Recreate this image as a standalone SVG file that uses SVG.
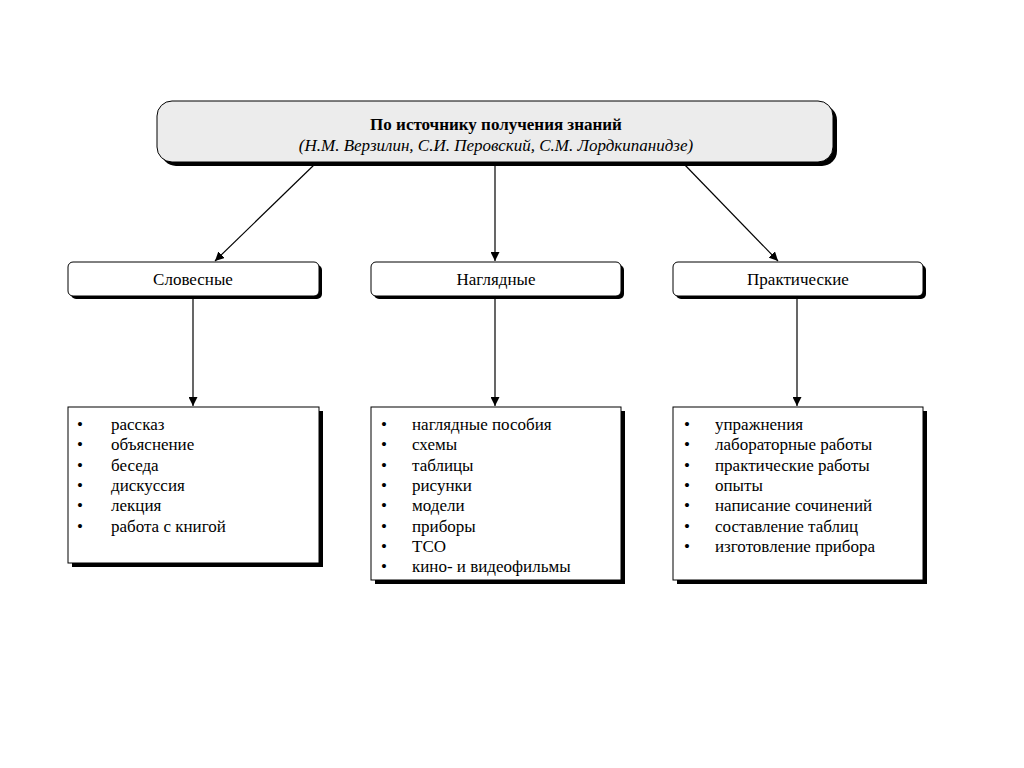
<svg xmlns="http://www.w3.org/2000/svg" width="1024" height="768" viewBox="0 0 1024 768">
<defs>
<style>
.t{font-family:"Liberation Serif","Times New Roman",serif;fill:#000}
.c{font-size:17px;text-anchor:middle}
.li{font-size:17px}
.box{fill:#fff;stroke:#000;stroke-width:1}
.sh{fill:#000}
.ln{stroke:#000;stroke-width:1.2;fill:none}
</style>
<marker id="ah" viewBox="0 0 10 10" refX="10" refY="5" markerWidth="9" markerHeight="9" markerUnits="userSpaceOnUse" orient="auto">
<path d="M0,0 L10,5 L0,10 z" fill="#000"/>
</marker>
</defs>
<rect width="1024" height="768" fill="#fff"/>

<g id="top">
<rect class="sh" x="161" y="105" width="676" height="61" rx="15"/>
<rect x="157" y="101" width="676" height="61" rx="15" fill="#ececec" stroke="#000" stroke-width="1"/>
<text class="t" x="496" y="130" font-size="17" font-weight="bold" text-anchor="middle">По источнику получения знаний</text>
<text class="t" x="496" y="151" font-size="17" font-style="italic" text-anchor="middle">(Н.М. Верзилин, С.И. Перовский, С.М. Лордкипанидзе)</text>
</g>

<g id="n1">
<rect class="sh" x="71" y="265" width="251" height="34" rx="5"/>
<rect class="box" x="68" y="262" width="251" height="34" rx="5"/>
<text class="t c" x="193" y="285">Словесные</text>
</g>
<g id="n2">
<rect class="sh" x="374" y="265" width="250" height="34" rx="5"/>
<rect class="box" x="371" y="262" width="250" height="34" rx="5"/>
<text class="t c" x="496" y="285">Наглядные</text>
</g>
<g id="n3">
<rect class="sh" x="676" y="265" width="250" height="34" rx="5"/>
<rect class="box" x="673" y="262" width="250" height="34" rx="5"/>
<text class="t c" x="798" y="285">Практические</text>
</g>

<g id="l1">
<rect class="sh" x="72" y="411" width="251" height="156"/>
<rect class="box" x="68" y="407" width="251" height="156"/>
<g class="t li">
<text x="77" y="430">•</text><text x="111" y="430">рассказ</text>
<text x="77" y="450">•</text><text x="111" y="450">объяснение</text>
<text x="77" y="471">•</text><text x="111" y="471">беседа</text>
<text x="77" y="491">•</text><text x="111" y="491">дискуссия</text>
<text x="77" y="511">•</text><text x="111" y="511">лекция</text>
<text x="77" y="532">•</text><text x="111" y="532">работа с книгой</text>
</g>
</g>

<g id="l2">
<rect class="sh" x="375" y="411" width="250" height="173"/>
<rect class="box" x="371" y="407" width="250" height="173"/>
<g class="t li">
<text x="381" y="430">•</text><text x="412" y="430">наглядные пособия</text>
<text x="381" y="450">•</text><text x="412" y="450">схемы</text>
<text x="381" y="471">•</text><text x="412" y="471">таблицы</text>
<text x="381" y="491">•</text><text x="412" y="491">рисунки</text>
<text x="381" y="511">•</text><text x="412" y="511">модели</text>
<text x="381" y="532">•</text><text x="412" y="532">приборы</text>
<text x="381" y="552">•</text><text x="412" y="552">ТСО</text>
<text x="381" y="572">•</text><text x="412" y="572">кино- и видеофильмы</text>
</g>
</g>

<g id="l3">
<rect class="sh" x="677" y="411" width="250" height="173"/>
<rect class="box" x="673" y="407" width="250" height="173"/>
<g class="t li">
<text x="684" y="430">•</text><text x="715" y="430">упражнения</text>
<text x="684" y="450">•</text><text x="715" y="450">лабораторные работы</text>
<text x="684" y="471">•</text><text x="715" y="471">практические работы</text>
<text x="684" y="491">•</text><text x="715" y="491">опыты</text>
<text x="684" y="511">•</text><text x="715" y="511">написание сочинений</text>
<text x="684" y="532">•</text><text x="715" y="532">составление таблиц</text>
<text x="684" y="552">•</text><text x="715" y="552">изготовление прибора</text>
</g>
</g>

<g id="connectors">
<line class="ln" x1="316" y1="163" x2="215" y2="261" marker-end="url(#ah)"/>
<line class="ln" x1="495" y1="163" x2="495" y2="261" marker-end="url(#ah)"/>
<line class="ln" x1="683" y1="163" x2="778" y2="261" marker-end="url(#ah)"/>
<line class="ln" x1="193" y1="297" x2="193" y2="406" marker-end="url(#ah)"/>
<line class="ln" x1="495" y1="297" x2="495" y2="406" marker-end="url(#ah)"/>
<line class="ln" x1="797" y1="297" x2="797" y2="406" marker-end="url(#ah)"/>
</g>
</svg>
